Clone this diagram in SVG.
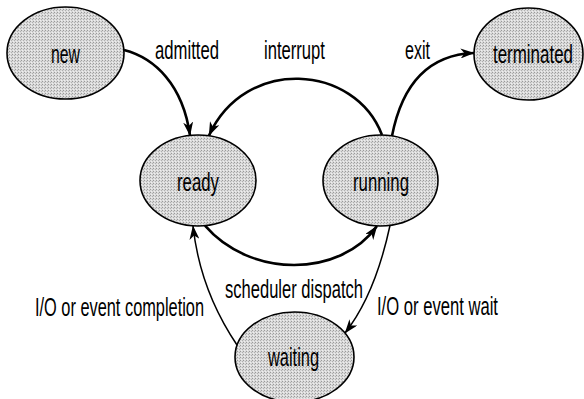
<svg xmlns="http://www.w3.org/2000/svg" width="584" height="399" viewBox="0 0 584 399">
<style>
.node ellipse{fill:url(#halftone);stroke:#000;stroke-width:1.6}
text{font-family:"Liberation Sans",Arial,sans-serif;font-size:25px;fill:#000}
.edge{fill:none;stroke:#000}
.bold{stroke-width:2.6}
.thin{stroke-width:1.5}
</style>
<defs>
<pattern id="halftone" width="3" height="3" patternUnits="userSpaceOnUse">
<rect width="3" height="3" fill="#dadada"/>
<rect x="0" y="0" width="1" height="1" fill="#9a9a9a"/>
<rect x="2" y="1" width="1" height="1" fill="#b0b0b0"/>
<rect x="1" y="2" width="1" height="1" fill="#eeeeee"/>
</pattern>
<marker id="arrow" viewBox="0 0 14 10" refX="13.5" refY="5" markerWidth="14" markerHeight="10" markerUnits="userSpaceOnUse" orient="auto">
<path d="M0,0 L14,5 L0,10 L4,5 z" fill="#000"/>
</marker>
</defs>
<rect width="584" height="399" fill="#fff"/>
<g id="node-new" class="node">
<ellipse cx="65.5" cy="53" rx="58.5" ry="46"/>
<text transform="translate(51,63) scale(0.66,1)" textLength="43.9" lengthAdjust="spacingAndGlyphs">new</text>
</g>
<g id="node-terminated" class="node">
<ellipse cx="528.5" cy="54" rx="54.5" ry="46"/>
<text transform="translate(493,63) scale(0.66,1)" textLength="121.2" lengthAdjust="spacingAndGlyphs">terminated</text>
</g>
<g id="node-ready" class="node">
<ellipse cx="198" cy="180.5" rx="58" ry="45.5"/>
<text transform="translate(177,191) scale(0.66,1)" textLength="63.6" lengthAdjust="spacingAndGlyphs">ready</text>
</g>
<g id="node-running" class="node">
<ellipse cx="380.5" cy="180.5" rx="57.5" ry="45.5"/>
<text transform="translate(353,191) scale(0.66,1)" textLength="84.8" lengthAdjust="spacingAndGlyphs">running</text>
</g>
<g id="node-waiting" class="node">
<ellipse cx="294.5" cy="357" rx="59.5" ry="45"/>
<text transform="translate(268,366) scale(0.66,1)" textLength="77.3" lengthAdjust="spacingAndGlyphs">waiting</text>
</g>
<g id="connectors">
<path class="edge bold" d="M124,50 C155,58 183,85 190,135.5" marker-end="url(#arrow)"/>
<path class="edge bold" d="M382,135 C355,64 245,56 209,135.5" marker-end="url(#arrow)"/>
<path class="edge bold" d="M392,136 C400,95 420,55 474,53" marker-end="url(#arrow)"/>
<path class="edge bold" d="M205,225.7 C250,278 340,278 377,226" marker-end="url(#arrow)"/>
<path class="edge thin" d="M237,345 Q200,290 193,226" marker-end="url(#arrow)"/>
<path class="edge thin" d="M390,225.5 Q375,295 345,333" marker-end="url(#arrow)"/>
<text transform="translate(155,59) scale(0.66,1)" textLength="97" lengthAdjust="spacingAndGlyphs">admitted</text>
<text transform="translate(264,59) scale(0.66,1)" textLength="92.4" lengthAdjust="spacingAndGlyphs">interrupt</text>
<text transform="translate(405,59) scale(0.66,1)" textLength="37.9" lengthAdjust="spacingAndGlyphs">exit</text>
<text transform="translate(225,298) scale(0.66,1)" textLength="209.1" lengthAdjust="spacingAndGlyphs">scheduler dispatch</text>
<text transform="translate(35,316) scale(0.66,1)" textLength="256.1" lengthAdjust="spacingAndGlyphs">I/O or event completion</text>
<text transform="translate(377,315) scale(0.66,1)" textLength="183.3" lengthAdjust="spacingAndGlyphs">I/O or event wait</text>
</g>
</svg>
